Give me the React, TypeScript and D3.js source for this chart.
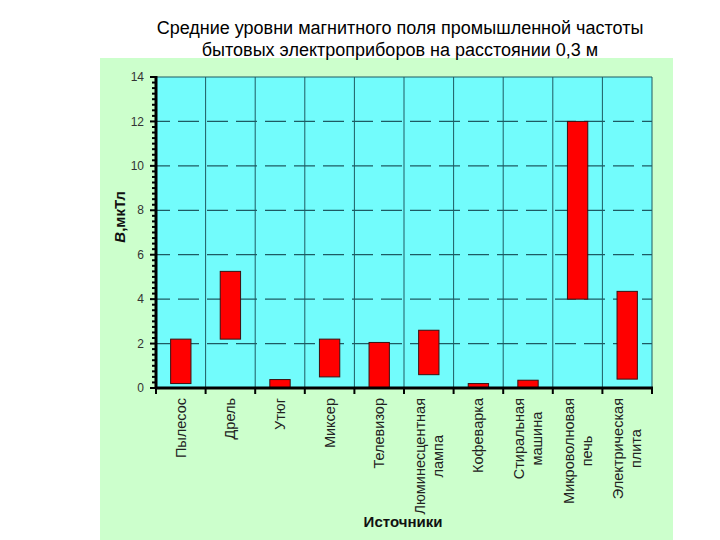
import React, { useEffect, useRef } from "react";
import * as d3 from "d3";

const categories = [
  "Пылесос",
  "Дрель",
  "Утюг",
  "Миксер",
  "Телевизор",
  "Люминесцентная\nлампа",
  "Кофеварка",
  "Стиральная\nмашина",
  "Микроволновая\nпечь",
  "Электрическая\nплита",
];
const lowValues = [0.2, 2.2, 0, 0.5, 0, 0.6, 0, 0, 4, 0.4];
const highValues = [2.2, 5.25, 0.38, 2.2, 2.05, 2.6, 0.2, 0.35, 12, 4.35];
const yTicks = [0, 2, 4, 6, 8, 10, 12, 14];
const titleLines = [
  "Средние уровни магнитного поля промышленной частоты",
  "бытовых электроприборов на расстоянии 0,3 м",
];
const xTitle = "Источники";

export default function App() {
  const ref = useRef<SVGSVGElement>(null);

  useEffect(() => {
    const svg = d3.select(ref.current);
    svg.selectAll("*").remove();
    const W = 720, H = 540;
    const left = 156, right = 652, top = 77, bottom = 388;
    const font = "Liberation Sans, Arial, sans-serif";

    svg.append("rect").attr("width", W).attr("height", H).attr("fill", "#ffffff");
    svg.append("rect").attr("x", 100).attr("y", 58).attr("width", 573).attr("height", 482).attr("fill", "#ccffcc");

    const x = d3.scaleBand<string>().domain(categories).range([left, right]).padding(0);
    const y = d3.scaleLinear().domain([0, 14]).range([bottom, top]);

    svg.append("rect").attr("x", left).attr("y", top).attr("width", right - left).attr("height", bottom - top).attr("fill", "#72fcfc");

    const grid = "#1e5b63";
    svg.append("g").selectAll("line").data(yTicks.filter(t => t > 0 && t < 14)).join("line")
      .attr("x1", left).attr("x2", right)
      .attr("y1", d => y(d)).attr("y2", d => y(d))
      .attr("stroke", grid).attr("stroke-width", 1.2).attr("stroke-dasharray", "21,8")
      .attr("stroke-dashoffset", -22);
    const bounds = categories.map(c => x(c)!).concat([right]);
    svg.append("g").selectAll("line").data(bounds.slice(1)).join("line")
      .attr("x1", d => d).attr("x2", d => d).attr("y1", top).attr("y2", bottom)
      .attr("stroke", grid).attr("stroke-width", 1);
    svg.append("line").attr("x1", left).attr("x2", right).attr("y1", top).attr("y2", top).attr("stroke", grid).attr("stroke-width", 1);

    const bw = x.bandwidth() * 0.41;
    svg.append("g").selectAll("rect").data(categories).join("rect")
      .attr("x", c => x(c)! + x.bandwidth() / 2 - bw / 2)
      .attr("width", bw)
      .attr("y", (c, i) => y(highValues[i]))
      .attr("height", (c, i) => y(lowValues[i]) - y(highValues[i]))
      .attr("fill", "#ff0000").attr("stroke", "#3a1010").attr("stroke-width", 1);

    const minor = d3.range(0, 14.001, 0.25);
    svg.append("g").selectAll("line").data(minor).join("line")
      .attr("x1", d => (d % 2 === 0 ? 150 : 152)).attr("x2", left)
      .attr("y1", d => y(d)).attr("y2", d => y(d))
      .attr("stroke", "#000").attr("stroke-width", 2);
    svg.append("line").attr("x1", left).attr("x2", left).attr("y1", top - 1).attr("y2", bottom + 1)
      .attr("stroke", "#000").attr("stroke-width", 3);
    svg.append("g").selectAll("text").data(yTicks).join("text")
      .attr("x", 144).attr("y", d => y(d)).attr("dy", "0.35em")
      .attr("text-anchor", "end").attr("font-family", font).attr("font-size", 12)
      .attr("fill", "#333").text(d => String(d));

    svg.append("line").attr("x1", left - 1).attr("x2", right + 1).attr("y1", bottom).attr("y2", bottom)
      .attr("stroke", "#000").attr("stroke-width", 3);
    svg.append("g").selectAll("line").data(bounds).join("line")
      .attr("x1", d => d).attr("x2", d => d).attr("y1", bottom).attr("y2", bottom + 6)
      .attr("stroke", "#000").attr("stroke-width", 2);

    const labelTop = 398;
    const lh = 18;
    categories.forEach(c => {
      const lines = c.split("\n");
      const cx = x(c)! + x.bandwidth() / 2;
      const g = svg.append("g").attr("transform", `translate(${cx},${labelTop}) rotate(-90)`);
      const texts = lines.map((ln, i) =>
        g.append("text")
          .attr("y", -((lines.length - 1) * lh) / 2 + i * lh)
          .attr("dy", "0.35em")
          .attr("text-anchor", "middle")
          .attr("font-family", font).attr("font-size", 14.5).attr("fill", "#222")
          .text(ln)
      );
      const maxLen = d3.max(texts, t => (t.node() as SVGTextElement).getComputedTextLength()) || 0;
      texts.forEach(t => t.attr("x", -maxLen / 2));
    });

    svg.append("text").attr("x", 403).attr("y", 527).attr("text-anchor", "middle")
      .attr("font-family", font).attr("font-size", 15).attr("font-weight", "bold").attr("fill", "#111")
      .text(xTitle);
    const yl = svg.append("text").attr("transform", "translate(125,217) rotate(-90)").attr("text-anchor", "middle")
      .attr("font-family", font).attr("font-size", 15).attr("font-weight", "bold").attr("fill", "#111");
    yl.append("tspan").attr("font-style", "italic").text("B");
    yl.append("tspan").text(",мкТл");

    svg.append("g").selectAll("text").data(titleLines).join("text")
      .attr("x", 400).attr("y", (d, i) => 34 + i * 22).attr("text-anchor", "middle")
      .attr("font-family", font).attr("font-size", 18).attr("fill", "#000")
      .text(d => d);
  }, []);

  return (
    <div style={{ position: "absolute", left: 0, top: 0 }}>
      <svg ref={ref} width={720} height={540} style={{ display: "block" }} />
    </div>
  );
}
